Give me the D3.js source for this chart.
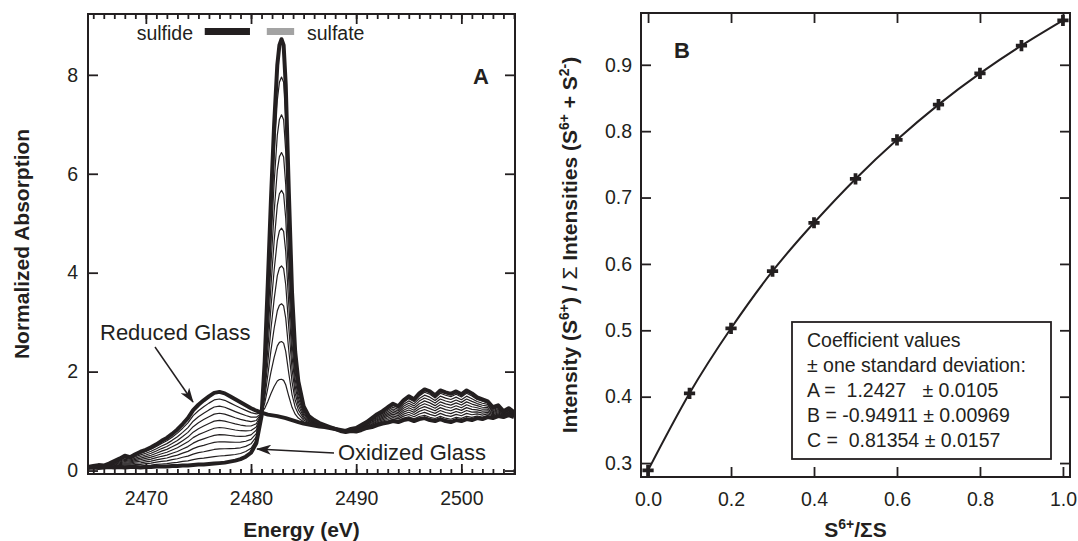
<!DOCTYPE html>
<html>
<head>
<meta charset="utf-8">
<script src="https://cdn.jsdelivr.net/npm/d3@7"></script>
<style>
body { margin: 0; background: #fff; }
svg text { font-family: "Liberation Sans", Arial, sans-serif; fill: #231f20; }
</style>
</head>
<body>
<svg id="chart" width="1078" height="541"></svg>
<script>
/* Panel A data: S K-edge XANES, the two end member glasses */
var energy = [2464.5, 2465, 2465.5, 2466, 2466.5, 2467, 2467.5, 2468, 2468.5, 2469, 2469.5, 2470,
  2470.5, 2471, 2471.5, 2472, 2472.5, 2473, 2473.5, 2474, 2474.5, 2475, 2475.5, 2476, 2476.5,
  2477, 2477.5, 2478, 2478.5, 2479, 2479.5, 2480, 2480.5, 2481, 2481.3, 2481.6, 2481.9, 2482.2,
  2482.5, 2482.7, 2482.9, 2483.1, 2483.3, 2483.6, 2483.9, 2484.2, 2484.5, 2485, 2485.5, 2486,
  2486.5, 2487, 2487.5, 2488, 2488.5, 2489, 2489.5, 2490, 2490.5, 2491, 2491.5, 2492, 2492.5,
  2493, 2493.5, 2494, 2494.5, 2495, 2495.5, 2496, 2496.5, 2497, 2497.5, 2498, 2498.5, 2499,
  2499.5, 2500, 2500.5, 2501, 2501.5, 2502, 2502.5, 2503, 2503.5, 2504, 2504.5, 2505];

var reducedGlass = [0.07, 0.09, 0.11, 0.10, 0.14, 0.19, 0.24, 0.30, 0.27, 0.33, 0.38, 0.42,
  0.47, 0.53, 0.60, 0.66, 0.74, 0.83, 0.94, 1.06, 1.22, 1.33, 1.42, 1.50, 1.57,
  1.59, 1.56, 1.50, 1.44, 1.38, 1.32, 1.26, 1.21, 1.17, 1.15, 1.13, 1.12, 1.11,
  1.10, 1.09, 1.08, 1.07, 1.06, 1.04, 1.02, 1.00, 0.98, 0.95, 0.93, 0.91,
  0.89, 0.88, 0.86, 0.84, 0.82, 0.80, 0.84, 0.86, 0.92, 0.98, 1.06, 1.14, 1.20,
  1.28, 1.35, 1.30, 1.42, 1.50, 1.44, 1.56, 1.64, 1.60, 1.52, 1.62, 1.58, 1.55,
  1.60, 1.54, 1.62, 1.56, 1.48, 1.44, 1.40, 1.28, 1.32, 1.20, 1.26, 1.18];

var oxidizedGlass = [0.05, 0.06, 0.05, 0.06, 0.07, 0.06, 0.07, 0.06, 0.07, 0.07, 0.06, 0.07,
  0.07, 0.08, 0.08, 0.08, 0.09, 0.09, 0.10, 0.10, 0.11, 0.12, 0.12, 0.13, 0.14,
  0.15, 0.16, 0.18, 0.20, 0.23, 0.28, 0.36, 0.55, 1.10, 2.20, 3.80, 5.50, 7.00,
  8.20, 8.60, 8.72, 8.60, 7.80, 5.60, 3.60, 2.40, 1.80, 1.30, 1.10, 1.02,
  0.96, 0.92, 0.88, 0.84, 0.80, 0.78, 0.80, 0.79, 0.82, 0.86, 0.88, 0.92, 0.95,
  0.97, 1.00, 0.98, 1.02, 1.04, 1.00, 1.04, 1.06, 1.02, 1.00, 1.04, 1.00, 0.98,
  1.02, 1.00, 1.04, 1.02, 1.06, 1.04, 1.08, 1.06, 1.10, 1.08, 1.12, 1.08];

// sulfate fraction of each mixture (also the x values of panel B)
var sulfateFraction = [0, 0.1, 0.2, 0.3, 0.4, 0.5, 0.6, 0.7, 0.8, 0.9, 1.0];
// integration windows shown as the bars at the top of panel A
var sulfideWindow = [2475.6, 2479.9];
var sulfateWindow = [2481.5, 2484.1];

/* Panel B data */
var intensityRatio = [0.289, 0.405, 0.503, 0.589, 0.662, 0.728, 0.787, 0.840, 0.887, 0.929, 0.967];
var coefLines = ["Coefficient values", "\u00b1 one standard deviation:",
  "A =  1.2427   \u00b1 0.0105", "B = -0.94911 \u00b1 0.00969", "C =  0.81354 \u00b1 0.0157"];

/* Ticks */
var energyTicks = [2470, 2480, 2490, 2500];
var energyMinor = d3.range(2465, 2506, 1);
var absTicks = [0, 2, 4, 6, 8];
var fracTicks = [0, 0.2, 0.4, 0.6, 0.8, 1.0];
var ratioTicks = [0.3, 0.4, 0.5, 0.6, 0.7, 0.8, 0.9];

var ink = "#231f20";
var svg = d3.select("#chart");
svg.append("rect").attr("width", 1078).attr("height", 541).attr("fill", "#fff");

/* arrow head marker */
svg.append("defs").append("marker")
    .attr("id", "arrow")
    .attr("viewBox", "0 0 15 10")
    .attr("refX", 14).attr("refY", 5)
    .attr("markerWidth", 15).attr("markerHeight", 10)
    .attr("markerUnits", "userSpaceOnUse")
    .attr("orient", "auto")
  .append("path")
    .attr("d", "M0,0 L15,5 L0,10 L4,5 Z")
    .attr("fill", ink);

function styleAxis(g, size) {
  g.attr("font-family", null).attr("font-size", null);
  g.select(".domain").remove();
  g.selectAll(".tick line").attr("stroke", ink).attr("stroke-width", 1.8);
  g.selectAll(".tick text").attr("font-size", size).attr("fill", ink);
}

/* ---------- Panel A ---------- */
var xA = d3.scaleLinear().domain([2464.5, 2505.1]).range([88, 515]);
var yA = d3.scaleLinear().domain([-0.07, 9.23]).range([474, 14]);

var gA = svg.append("g");

var lineA = d3.line()
    .x(function(d) { return xA(d[0]); })
    .y(function(d) { return yA(d[1]); });

var mixtures = sulfateFraction.map(function(f) {
  return energy.map(function(e, i) {
    return [e, (1 - f) * reducedGlass[i] + f * oxidizedGlass[i]];
  });
});

gA.selectAll("path.mix")
    .data(mixtures.slice(1, mixtures.length - 1))
    .enter().append("path")
    .attr("class", "mix")
    .attr("d", lineA)
    .attr("fill", "none")
    .attr("stroke", ink)
    .attr("stroke-width", 1.2)
    .attr("stroke-linejoin", "round");

gA.selectAll("path.end")
    .data([mixtures[0], mixtures[mixtures.length - 1]])
    .enter().append("path")
    .attr("class", "end")
    .attr("d", lineA)
    .attr("fill", "none")
    .attr("stroke", ink)
    .attr("stroke-width", 4)
    .attr("stroke-linejoin", "round");

// frame
gA.append("rect")
    .attr("x", xA.range()[0]).attr("y", yA.range()[1])
    .attr("width", xA.range()[1] - xA.range()[0])
    .attr("height", yA.range()[0] - yA.range()[1])
    .attr("fill", "none").attr("stroke", ink).attr("stroke-width", 2);

// axes
var axBot = gA.append("g").attr("transform", "translate(0," + yA.range()[0] + ")")
    .call(d3.axisBottom(xA).tickValues(energyTicks).tickSize(-10).tickPadding(17).tickFormat(d3.format("d")));
styleAxis(axBot, 19.5);
styleAxis(gA.append("g").attr("transform", "translate(0," + yA.range()[0] + ")")
    .call(d3.axisBottom(xA).tickValues(energyMinor).tickSize(-5).tickFormat("")), 0);
styleAxis(gA.append("g").attr("transform", "translate(0," + yA.range()[1] + ")")
    .call(d3.axisTop(xA).tickValues(energyTicks).tickSize(-10).tickFormat("")), 0);
styleAxis(gA.append("g").attr("transform", "translate(0," + yA.range()[1] + ")")
    .call(d3.axisTop(xA).tickValues(energyMinor).tickSize(-5).tickFormat("")), 0);
styleAxis(gA.append("g").attr("transform", "translate(" + xA.range()[0] + ",0)")
    .call(d3.axisLeft(yA).tickValues(absTicks).tickSize(-10).tickPadding(10)), 19.5);
styleAxis(gA.append("g").attr("transform", "translate(" + xA.range()[1] + ",0)")
    .call(d3.axisRight(yA).tickValues(absTicks).tickSize(-10).tickFormat("")), 0);

// titles
gA.append("text")
    .attr("x", (xA.range()[0] + xA.range()[1]) / 2).attr("y", 537)
    .attr("text-anchor", "middle").attr("font-size", 21).attr("font-weight", "bold")
    .text("Energy (eV)");
gA.append("text")
    .attr("transform", "translate(29," + (yA.range()[0] + yA.range()[1]) / 2 + ") rotate(-90)")
    .attr("text-anchor", "middle").attr("font-size", 21).attr("font-weight", "bold")
    .text("Normalized Absorption");
gA.append("text")
    .attr("x", 481).attr("y", 84).attr("text-anchor", "middle")
    .attr("font-size", 22).attr("font-weight", "bold").text("A");

// legend bars
gA.append("text").attr("x", 193).attr("y", 40).attr("text-anchor", "end")
    .attr("font-size", 19.5).text("sulfide");
gA.append("rect")
    .attr("x", xA(sulfideWindow[0])).attr("y", 28)
    .attr("width", xA(sulfideWindow[1]) - xA(sulfideWindow[0])).attr("height", 7)
    .attr("fill", ink);
gA.append("rect")
    .attr("x", xA(sulfateWindow[0])).attr("y", 28)
    .attr("width", xA(sulfateWindow[1]) - xA(sulfateWindow[0])).attr("height", 7)
    .attr("fill", "#a3a3a3");
gA.append("text").attr("x", 307).attr("y", 40)
    .attr("font-size", 19.5).text("sulfate");

// annotations
gA.append("text").attr("x", 100).attr("y", 340).attr("font-size", 22).text("Reduced Glass");
gA.append("line")
    .attr("x1", 155).attr("y1", 347).attr("x2", 193).attr("y2", 402)
    .attr("stroke", ink).attr("stroke-width", 1.5).attr("marker-end", "url(#arrow)");
gA.append("text").attr("x", 338).attr("y", 460).attr("font-size", 22).text("Oxidized Glass");
gA.append("line")
    .attr("x1", 334).attr("y1", 453).attr("x2", 257).attr("y2", 449)
    .attr("stroke", ink).attr("stroke-width", 1.5).attr("marker-end", "url(#arrow)");

/* ---------- Panel B ---------- */
var xB = d3.scaleLinear().domain([-0.017, 1.017]).range([641, 1070]);
var yB = d3.scaleLinear().domain([0.279, 0.978]).range([477, 13]);
var gB = svg.append("g");

var pointsB = sulfateFraction.map(function(f, i) { return [f, intensityRatio[i]]; });

gB.append("path")
    .datum(pointsB)
    .attr("d", d3.line().curve(d3.curveNatural)
        .x(function(d) { return xB(d[0]); })
        .y(function(d) { return yB(d[1]); }))
    .attr("fill", "none").attr("stroke", ink).attr("stroke-width", 2);

gB.selectAll("path.pt")
    .data(pointsB)
    .enter().append("path")
    .attr("class", "pt")
    .attr("transform", function(d) { return "translate(" + xB(d[0]) + "," + yB(d[1]) + ")"; })
    .attr("d", d3.symbol().type(d3.symbolCross).size(70))
    .attr("fill", ink);

gB.append("rect")
    .attr("x", xB.range()[0]).attr("y", yB.range()[1])
    .attr("width", xB.range()[1] - xB.range()[0])
    .attr("height", yB.range()[0] - yB.range()[1])
    .attr("fill", "none").attr("stroke", ink).attr("stroke-width", 2);

styleAxis(gB.append("g").attr("transform", "translate(0," + yB.range()[0] + ")")
    .call(d3.axisBottom(xB).tickValues(fracTicks).tickSize(-10).tickPadding(15).tickFormat(d3.format(".1f"))), 19.5);
styleAxis(gB.append("g").attr("transform", "translate(0," + yB.range()[1] + ")")
    .call(d3.axisTop(xB).tickValues(fracTicks).tickSize(-10).tickFormat("")), 0);
styleAxis(gB.append("g").attr("transform", "translate(" + xB.range()[0] + ",0)")
    .call(d3.axisLeft(yB).tickValues(ratioTicks).tickSize(-10).tickPadding(9).tickFormat(d3.format(".1f"))), 19.5);
styleAxis(gB.append("g").attr("transform", "translate(" + xB.range()[1] + ",0)")
    .call(d3.axisRight(yB).tickValues(ratioTicks).tickSize(-10).tickFormat("")), 0);

gB.append("text")
    .attr("x", 682).attr("y", 58).attr("text-anchor", "middle")
    .attr("font-size", 22).attr("font-weight", "bold").text("B");

// x title S6+/ΣS
var tx = gB.append("text")
    .attr("x", (xB.range()[0] + xB.range()[1]) / 2).attr("y", 537)
    .attr("text-anchor", "middle").attr("font-size", 21).attr("font-weight", "bold");
tx.append("tspan").text("S");
tx.append("tspan").attr("dy", -8).attr("font-size", 14).text("6+");
tx.append("tspan").attr("dy", 8).text("/\u03a3S");

// y title
var ty = gB.append("text")
    .attr("transform", "translate(577," + (yB.range()[0] + yB.range()[1]) / 2 + ") rotate(-90)")
    .attr("text-anchor", "middle").attr("font-size", 21).attr("font-weight", "bold");
ty.append("tspan").text("Intensity (S");
ty.append("tspan").attr("dy", -8).attr("font-size", 14).text("6+");
ty.append("tspan").attr("dy", 8).text(") / ");
ty.append("tspan").attr("font-weight", "normal").text("\u03a3");
ty.append("tspan").text(" Intensities (S");
ty.append("tspan").attr("dy", -8).attr("font-size", 14).text("6+");
ty.append("tspan").attr("dy", 8).text(" + S");
ty.append("tspan").attr("dy", -8).attr("font-size", 14).text("2-");
ty.append("tspan").attr("dy", 8).text(")");

// coefficient box
var boxX = 792, boxY = 322, boxW = 259, boxH = 137;
gB.append("rect")
    .attr("x", boxX).attr("y", boxY).attr("width", boxW).attr("height", boxH)
    .attr("fill", "#fff").attr("stroke", ink).attr("stroke-width", 1.8);
gB.selectAll("text.coef")
    .data(coefLines)
    .enter().append("text")
    .attr("class", "coef")
    .attr("x", boxX + 15)
    .attr("y", function(d, i) { return boxY + 25 + i * 25; })
    .attr("font-size", 19.5)
    .style("white-space", "pre")
    .text(function(d) { return d; });
</script>
</body>
</html>
